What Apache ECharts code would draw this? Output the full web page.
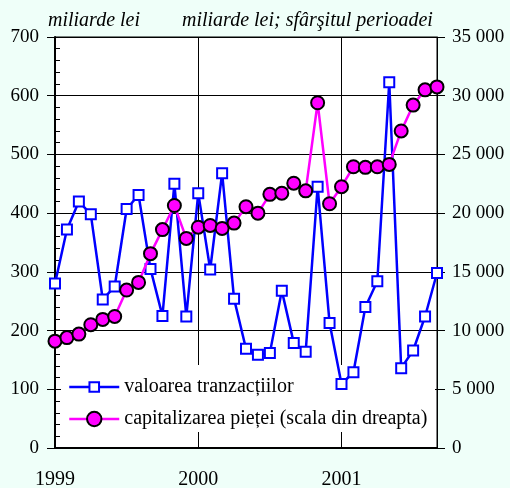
<!DOCTYPE html>
<html>
<head>
<meta charset="utf-8">
<script src="https://cdn.jsdelivr.net/npm/echarts@6/dist/echarts.min.js"></script>
<style>
html,body{margin:0;padding:0;background:#effff9;}
#c{width:510px;height:488px;}
</style>
</head>
<body>
<div id="c"></div>
<script>
const months = ['1999-01','1999-02','1999-03','1999-04','1999-05','1999-06','1999-07','1999-08','1999-09','1999-10','1999-11','1999-12',
  '2000-01','2000-02','2000-03','2000-04','2000-05','2000-06','2000-07','2000-08','2000-09','2000-10','2000-11','2000-12',
  '2001-01','2001-02','2001-03','2001-04','2001-05','2001-06','2001-07','2001-08','2001-09'];
const yearLabels = ['1999','2000','2001'];
const tranzactii = [280,372,420,398,253,275,407,431,305,225,450,224,
  434,304,468,254,169,159,162,268,179,164,445,213,
  109,129,240,284,623,136,166,224,298];
const capitalizare = [9100,9400,9700,10500,10950,11200,13450,14100,16550,18600,20650,17850,
  18800,18950,18700,19150,20550,20000,21600,21700,22550,21900,29400,20800,
  22250,23950,23900,23950,24150,27000,29200,30500,30750];
const leftAxis = {min:0, max:700, step:100};
const rightAxis = {min:0, max:35000, step:5000};
const titleLeft = 'miliarde lei';
const titleRight = 'miliarde lei; sfârşitul perioadei';
const nameTranz = 'valoarea tranzacțiilor';
const nameCap = 'capitalizarea pieței (scala din dreapta)';

const FONT = '"Liberation Serif", "Times New Roman", serif';
const chart = echarts.init(document.getElementById('c'));
const fmtThousands = v => v === 0 ? '0' : (Math.floor(v/1000)) + ' ' + String(v % 1000).padStart(3,'0');

chart.setOption({
  backgroundColor: '#effff9',
  animation: false,
  title: [
    {text: titleLeft, left: 48, top: 11, padding: 0,
     textStyle: {fontFamily: FONT, fontSize: 20, fontStyle: 'italic', fontWeight: 'normal', color: '#000'}},
    {text: titleRight, left: 182, top: 11, padding: 0,
     textStyle: {fontFamily: FONT, fontSize: 20, fontStyle: 'italic', fontWeight: 'normal', color: '#000'}}
  ],
  grid: {left: 55, right: 73, top: 37, bottom: 40, show: true, backgroundColor: '#ffffff',
         borderColor: '#000', borderWidth: 1, containLabel: false, outerBoundsMode: 'none'},
  graphic: [
    {type: 'rect', z: 1, shape: {x: 61, y: 365, width: 374, height: 67}, style: {fill: '#ffffff'}}
  ],
  legend: [
    {data: [{name: nameTranz, itemStyle: {color: '#ffffff', borderColor: '#0000ff', borderWidth: 2},
             lineStyle: {color: '#0000ff', width: 2.5}}],
     left: 68, top: 377, padding: 0, itemWidth: 50, itemHeight: 12, itemGap: 0,
     textStyle: {fontFamily: FONT, fontSize: 20, color: '#000'}},
    {data: [{name: nameCap, itemStyle: {color: '#ff00ff', borderColor: '#000', borderWidth: 2},
             lineStyle: {color: '#ff00ff', width: 2.5}}],
     left: 68, top: 409, padding: 0, itemWidth: 50, itemHeight: 18, itemGap: 0,
     textStyle: {fontFamily: FONT, fontSize: 20, color: '#000'}}
  ],
  xAxis: {
    type: 'category', data: months, boundaryGap: false,
    axisLine: {show: true, lineStyle: {color: '#000', width: 2}},
    axisTick: {show: false},
    axisLabel: {interval: (i) => i % 12 === 0, formatter: (v, i) => yearLabels[Math.round(i/12)],
                margin: 22, fontFamily: FONT, fontSize: 20, color: '#000', hideOverlap: false},
    splitLine: {show: true, interval: (i) => i === 12 || i === 24, lineStyle: {color: '#000', width: 1}}
  },
  yAxis: [
    {type: 'value', position: 'left', min: leftAxis.min, max: leftAxis.max, interval: leftAxis.step,
     axisLine: {show: true, lineStyle: {color: '#000', width: 2}},
     axisTick: {show: true, length: 8, lineStyle: {color: '#000', width: 1}},
     axisLabel: {margin: 16, fontFamily: FONT, fontSize: 19, color: '#000'},
     splitLine: {show: true, lineStyle: {color: '#000', width: 1}}},
    {type: 'value', position: 'right', min: rightAxis.min, max: rightAxis.max, interval: rightAxis.step,
     axisLine: {show: true, lineStyle: {color: '#000', width: 1}},
     axisTick: {show: true, length: 8, lineStyle: {color: '#000', width: 1}},
     axisLabel: {margin: 15, fontFamily: FONT, fontSize: 19, color: '#000', formatter: fmtThousands},
     splitLine: {show: false}},
    {type: 'value', position: 'left', min: leftAxis.min, max: leftAxis.max, interval: leftAxis.step,
     axisLine: {show: false},
     axisTick: {show: false, inside: true},
     minorTick: {show: true, splitNumber: 5, length: 5, lineStyle: {color: '#000', width: 1}},
     axisLabel: {show: false},
     splitLine: {show: false}}
  ],
  series: [
    {name: nameTranz, type: 'line', yAxisIndex: 0, data: tranzactii,
     symbol: 'rect', symbolSize: 10, showAllSymbol: true,
     itemStyle: {color: '#ffffff', borderColor: '#0000ff', borderWidth: 2},
     lineStyle: {color: '#0000ff', width: 2.5}, z: 2},
    {name: nameCap, type: 'line', yAxisIndex: 1, data: capitalizare,
     symbol: 'circle', symbolSize: 13, showAllSymbol: true,
     itemStyle: {color: '#ff00ff', borderColor: '#000000', borderWidth: 2},
     lineStyle: {color: '#ff00ff', width: 2.5}, z: 3}
  ]
});
</script>
</body>
</html>
